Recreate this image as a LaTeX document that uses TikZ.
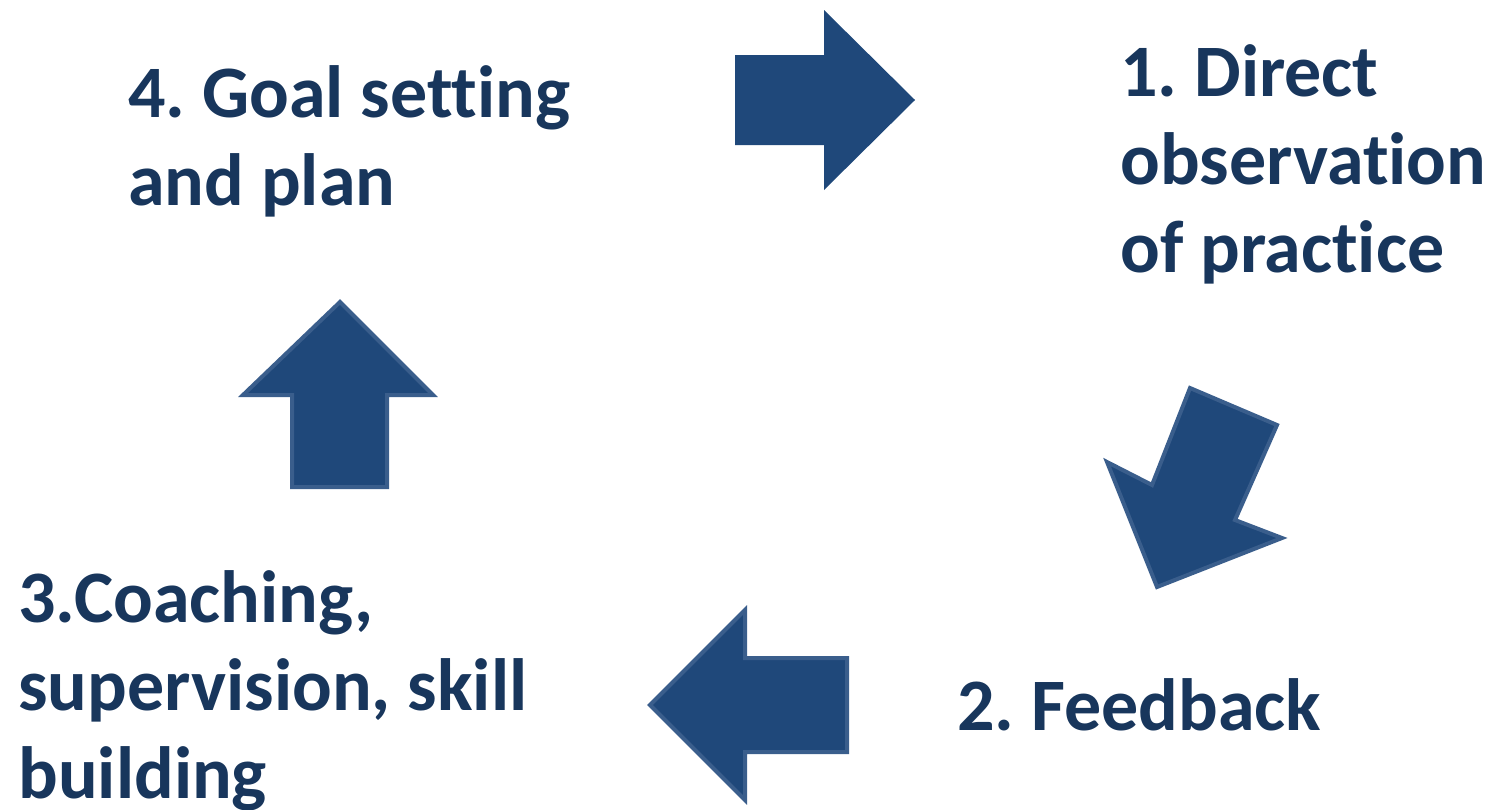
\documentclass[tikz,border=0pt]{standalone}
\usepackage{fontspec}
\setmainfont{Carlito}[Ligatures=NoCommon]
\frenchspacing
\definecolor{arrowblue}{RGB}{31,72,122}
\definecolor{arrowedge}{RGB}{58,94,140}
\definecolor{textblue}{RGB}{24,54,92}
\tikzset{
  steplabel/.style={
    anchor=base west,
    inner sep=0pt,
    align=left,
    text=textblue,
    font=\fontsize{37pt}{44pt}\selectfont\bfseries
  },
  blockarrow/.style={
    fill=arrowblue,
    draw=arrowedge,
    line width=2pt,
    line join=miter
  }
}

\begin{document}
\begin{tikzpicture}[x=0.5pt, y=-0.5pt]
    \useasboundingbox (0,0) rectangle (1493,809);
    % labels of the four steps (placed at the baseline of their last line)
    \node[steplabel] (goal) at (128, 205) {4. Goal setting\\and plan};
    \node[steplabel] (observe) at (1120, 272) {1. Direct\\observation\\of practice};
    \node[steplabel] (feedback) at (957, 730) {2. Feedback};
    \node[steplabel] (coach) at (18, 798) {3.Coaching,\\supervision, skill\\building};
    % block arrows between the steps
    \fill[arrowblue] (735,55) -- (824,55) -- (824,10) -- (915,100) -- (824,190) -- (824,145) -- (735,145) -- cycle;
    \draw[blockarrow] (1190,388) -- (1277,425) -- (1235,520) -- (1282,538) -- (1157,587) -- (1107,462) -- (1152,485) -- cycle;
    \draw[blockarrow] (847,658) -- (745,658) -- (745,610) -- (650,705) -- (745,800) -- (745,752) -- (847,752) -- cycle;
    \draw[blockarrow] (292,487) -- (292,395) -- (243,395) -- (340,302) -- (433,395) -- (387,395) -- (387,487) -- cycle;
\end{tikzpicture}
\end{document}
